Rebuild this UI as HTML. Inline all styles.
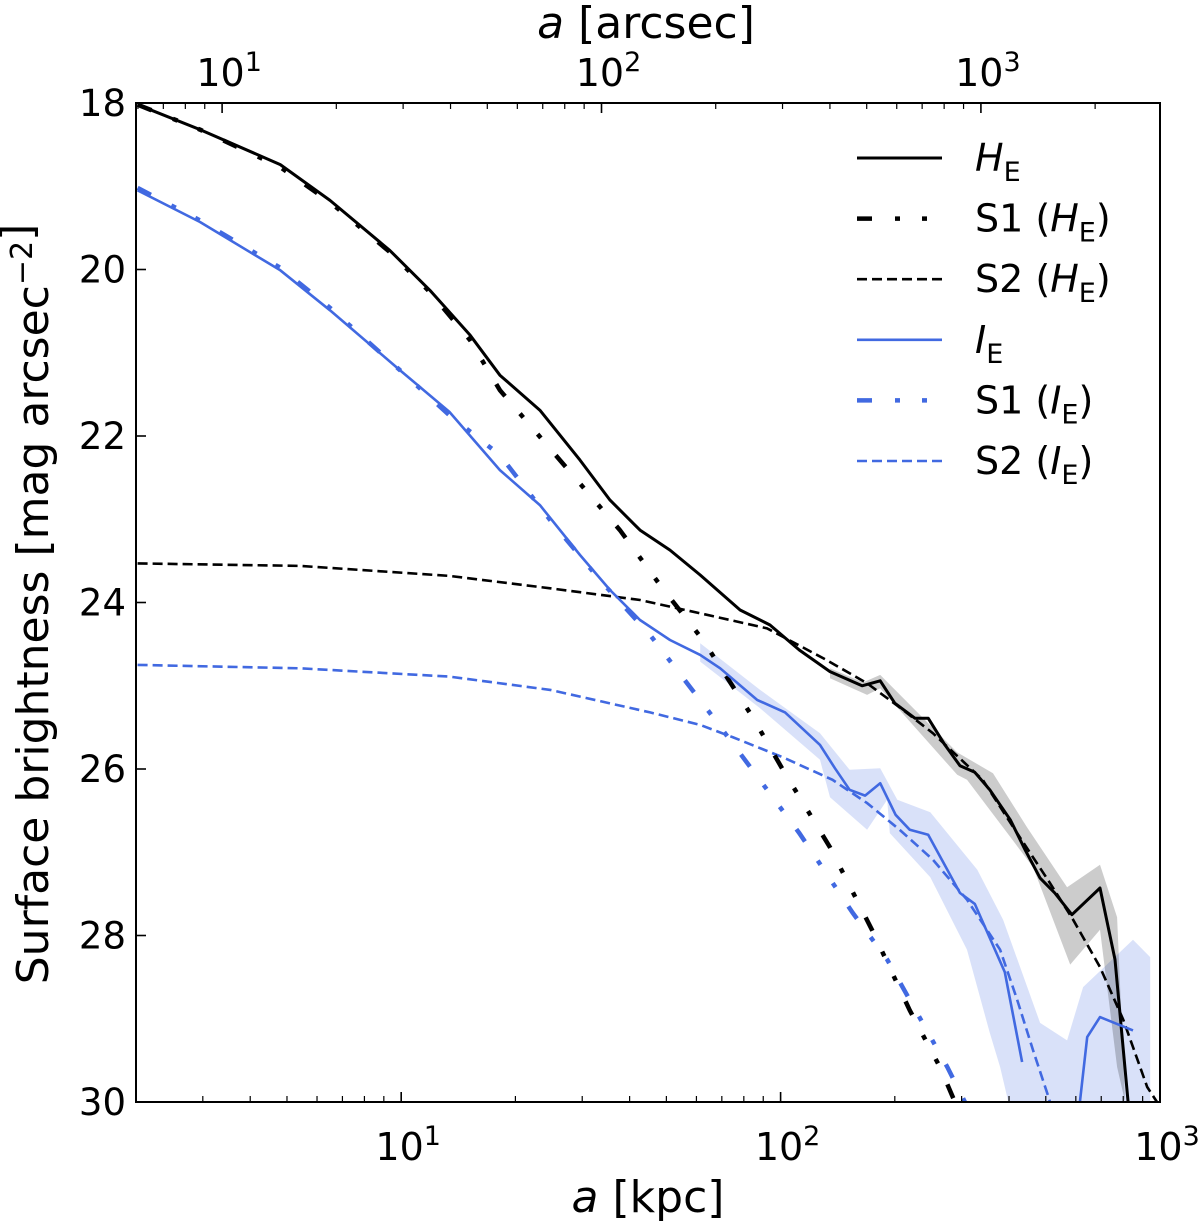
<!DOCTYPE html>
<html><head><meta charset="utf-8"><style>
html,body{margin:0;padding:0;background:#fff;}
svg{display:block;font-family:"DejaVu Sans","Liberation Sans",sans-serif;}
</style></head><body>
<svg id="chart" width="1200" height="1230" viewBox="0 0 1200 1230" xmlns="http://www.w3.org/2000/svg">
<defs><clipPath id="pc"><rect x="136" y="103" width="1024" height="999"/></clipPath></defs>
<g id="bands" clip-path="url(#pc)"></g>
<g id="lines" clip-path="url(#pc)"></g>
<g id="axes"></g>
<g id="legend"></g>
</svg>
<script>
// ---- data (x in kpc, y in mag arcsec^-2) ----
const hX = [2.02,2.95,4.80,6.49,9.33,11.9,15.2,18.2,23.2,29.6,35.5,42.6,51.1,61.4,78.2,93.8,112,135,164,183,200,226,245,271,297,325,356,403,441,483,528,586,695,761,824];
const hY = [18.02,18.32,18.74,19.17,19.77,20.25,20.79,21.27,21.69,22.29,22.77,23.13,23.37,23.67,24.09,24.27,24.57,24.83,25.00,24.94,25.21,25.39,25.39,25.71,25.96,26.04,26.25,26.61,26.97,27.31,27.49,27.75,27.43,28.29,30.0];
const iX = [2.02,2.95,4.80,6.49,9.93,13.4,18.2,23.2,29.6,35.5,42.6,51.1,61.4,69.3,86.7,102.8,127,139,152,167,183,201,219,245,297,325,390,433,null,615,643,695,849];
const iY = [19.05,19.43,20.01,20.49,21.21,21.71,22.41,22.83,23.43,23.85,24.21,24.45,24.63,24.79,25.17,25.32,25.71,25.99,26.25,26.32,26.17,26.55,26.73,26.79,27.49,27.62,28.44,29.52,null,30.0,29.22,28.98,29.14];
const s1hX = [2.02,2.95,4.80,6.49,9.33,11.9,15.2,18.2,26.2,37.7,48.1,62.4,84.5,101.4,135,174,219,263,288];
const s1hY = [18.02,18.32,18.77,19.19,19.79,20.27,20.85,21.45,22.29,23.13,23.79,24.45,25.38,26.01,26.94,27.93,28.90,29.58,30.0];
const s1iX = [2.02,2.95,4.80,6.49,9.93,13.4,18.2,24.7,33.4,45.3,65.2,79.6,112,155,191,275,306];
const s1iY = [19.02,19.41,19.98,20.46,21.21,21.75,22.23,23.01,23.73,24.39,25.33,25.86,26.77,27.73,28.29,29.58,30.0];
const s2hX = [2.02,5.41,13.4,24.7,42.6,61.4,92.1,132,169,206,252,341,420,513,590,695,800,925,982];
const s2hY = [23.53,23.56,23.68,23.83,23.97,24.13,24.31,24.69,24.97,25.26,25.57,26.13,26.77,27.37,27.81,28.38,29.01,29.82,30.0];
const s2iX = [2.02,5.41,13.4,24.7,45.3,61.4,75.0,101.4,137,169,206,252,310,379,420,463,504,513];
const s2iY = [24.75,24.79,24.89,25.05,25.32,25.47,25.62,25.86,26.13,26.41,26.73,27.09,27.57,28.17,28.77,29.38,29.89,30.0];
const bandIUpX = [61.4,88.3,127,152,183,203,248,330,386,483,569,627,849,942,942];
const bandIUpY = [24.49,25.05,25.57,26.01,25.99,26.37,26.52,27.21,27.81,29.05,29.26,28.62,28.05,28.26,30.1];
const bandILoX = [61.4,88.3,127,135,169,191,194,248,310,356,379,403];
const bandILoY = [24.71,25.27,25.89,26.34,26.73,26.37,26.77,27.30,28.17,29.17,29.58,30.1];
const bandHUpX = [135,165,183,292,363,446,569,695,771,809];
const bandHUpY = [24.79,24.96,24.87,25.80,26.05,26.70,27.42,27.15,27.78,30.0];
const bandHLoX = [135,169,183,292,310,463,580,695,771,809];
const bandHLoY = [24.91,25.11,25.03,26.07,26.13,27.18,28.35,27.93,29.58,30.0];
const yTicks = [18,20,22,24,26,28,30];
const xMajor = [1,2,3];
const arcsecPerKpc = 2.965;

// ---- scales ----
const L=136,R=1160,T=103,B=1102;
const xMin=Math.log10(2), xMax=3;
const sx = v => L + (Math.log10(v)-xMin)/(xMax-xMin)*(R-L);
const sy = v => T + (v-18)/12*(B-T);
const NS='http://www.w3.org/2000/svg';
function mk(tag, attrs, parent){const e=document.createElementNS(NS,tag);for(const k in attrs)e.setAttribute(k,attrs[k]);parent.appendChild(e);return e;}
const bands=document.getElementById('bands'), lines=document.getElementById('lines'), axes=document.getElementById('axes'), legend=document.getElementById('legend');

function bandPath(ux,uy,lx,ly){let d='';ux.forEach((x,i)=>{d+=(i?'L':'M')+sx(x).toFixed(1)+','+sy(uy[i]).toFixed(1);});for(let i=lx.length-1;i>=0;i--)d+='L'+sx(lx[i]).toFixed(1)+','+sy(ly[i]).toFixed(1);return d+'Z';}
function linePath(xs,ys){let d='',pen=false;xs.forEach((x,i)=>{if(x===null){pen=false;return;}d+=(pen?'L':'M')+sx(x).toFixed(1)+','+sy(ys[i]).toFixed(1);pen=true;});return d;}

let e;
e=mk('path',{d:bandPath(bandIUpX,bandIUpY,bandILoX,bandILoY),fill:'#4169e1','fill-opacity':'0.2',stroke:'none'},bands);


e=mk('path',{d:bandPath(bandHUpX,bandHUpY,bandHLoX,bandHLoY),fill:'#000','fill-opacity':'0.2',stroke:'none'},bands);



const BLUE='#4169e1';
const DD='15 23 5 22 5 23', DA='10 5';
e=mk('path',{d:linePath(s2hX,s2hY),fill:'none',stroke:'#000','stroke-width':2.6,'stroke-dasharray':DA},lines);


e=mk('path',{d:linePath(s2iX,s2iY),fill:'none',stroke:BLUE,'stroke-width':2.6,'stroke-dasharray':DA},lines);


e=mk('path',{d:linePath(s1hX,s1hY),fill:'none',stroke:'#000','stroke-width':4.5,'stroke-dasharray':DD},lines);


e=mk('path',{d:linePath(s1iX,s1iY),fill:'none',stroke:BLUE,'stroke-width':4.5,'stroke-dasharray':DD},lines);


e=mk('path',{d:linePath(hX,hY),fill:'none',stroke:'#000','stroke-width':3,'stroke-linejoin':'round'},lines);


e=mk('path',{d:linePath(iX,iY),fill:'none',stroke:BLUE,'stroke-width':2.6,'stroke-linejoin':'round'},lines);



// ---- axes ----
e=mk('rect',{x:L,y:T,width:R-L,height:B-T,fill:'none',stroke:'#000','stroke-width':2},axes);


function txt(s,x,y,size,anchor,parent){const t=mk('text',{x:x,y:y,'font-size':size,'text-anchor':anchor||'middle',fill:'#000'},parent);t.innerHTML=s;return t;}
yTicks.forEach(v=>{
  const y=sy(v);
  e=mk('line',{x1:L,x2:L+10,y1:y,y2:y,stroke:'#000','stroke-width':1.6},axes);
  
  
  e=txt(String(v),126,y+13,37,'end',axes);
  
  
});
for(let dec=0;dec<3;dec++){for(let m=1;m<10;m++){const v=m*Math.pow(10,dec);if(v<2||v>1000)continue;const x=sx(v);const major=(m===1);
  e=mk('line',{x1:x,x2:x,y1:B,y2:B-(major?10:6),stroke:'#000','stroke-width':major?1.6:1.2},axes);
  
  
}}
mk('line',{x1:sx(1000),x2:sx(1000),y1:B,y2:B-10,stroke:'#000','stroke-width':1.6},axes);
xMajor.forEach(p=>{const x=sx(Math.pow(10,p));
  e=txt('10<tspan dy="-15" font-size="27">'+p+'</tspan>',x+7,B+58,38,'middle',axes);
  
  
});
for(let dec=0;dec<4;dec++){for(let m=1;m<10;m++){const a=m*Math.pow(10,dec);const k=a/arcsecPerKpc;if(k<2||k>1000)continue;const x=sx(k);const major=(m===1);
  e=mk('line',{x1:x,x2:x,y1:T,y2:T+(major?10:6),stroke:'#000','stroke-width':major?1.6:1.2},axes);
  
  
}}
xMajor.forEach(p=>{const x=sx(Math.pow(10,p)/arcsecPerKpc);
  e=txt('10<tspan dy="-15" font-size="27">'+p+'</tspan>',x+7,T-17,38,'middle',axes);
  
  
});
e=txt('<tspan font-style="italic">a</tspan> [kpc]',648,1212,44,'middle',axes);


e=txt('<tspan font-style="italic">a</tspan> [arcsec]',646,38,44,'middle',axes);


e=txt('Surface brightness [mag arcsec<tspan dy="-16" font-size="30">−2</tspan>]',0,0,44,'middle',axes);
e.setAttribute('transform','translate(48,604) rotate(-90)');



// ---- legend ----
const legLabels=['<tspan font-style="italic">H</tspan><tspan font-size="27" dy="10">E</tspan>',
 'S1 (<tspan font-style="italic">H</tspan><tspan font-size="27" dy="10">E</tspan><tspan dy="-10">)</tspan>',
 'S2 (<tspan font-style="italic">H</tspan><tspan font-size="27" dy="10">E</tspan><tspan dy="-10">)</tspan>',
 '<tspan font-style="italic">I</tspan><tspan font-size="27" dy="10">E</tspan>',
 'S1 (<tspan font-style="italic">I</tspan><tspan font-size="27" dy="10">E</tspan><tspan dy="-10">)</tspan>',
 'S2 (<tspan font-style="italic">I</tspan><tspan font-size="27" dy="10">E</tspan><tspan dy="-10">)</tspan>'];
const legStyles=[['#000',3,''],['#000',4.5,DD],['#000',2.6,DA],[BLUE,2.6,''],[BLUE,4.5,DD],[BLUE,2.6,DA]];
legLabels.forEach((s,i)=>{const y=158+i*60.6;
  const g=mk('g',{},legend);
  
  
  const st=legStyles[i];
  const a={x1:857,x2:942,y1:y,y2:y,stroke:st[0],'stroke-width':st[1]};if(st[2])a['stroke-dasharray']=st[2];
  mk('line',a,g);
  txt(s,975,y+13,38,'start',g);
});
</script>
</body></html>
